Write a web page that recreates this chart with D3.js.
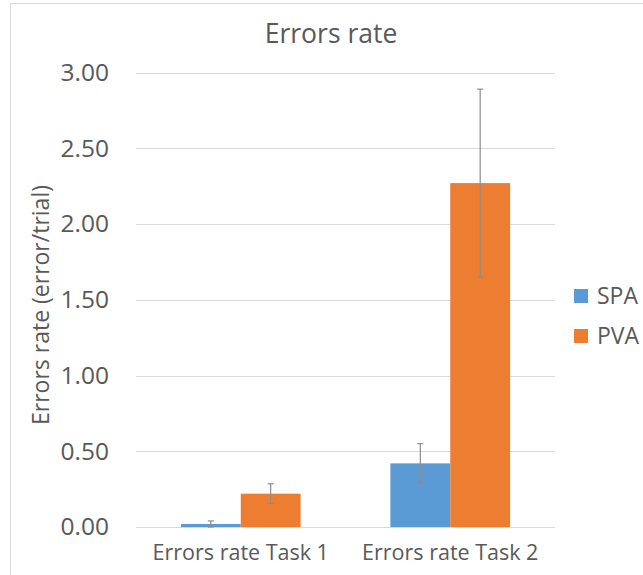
<!DOCTYPE html>
<html>
<head>
<meta charset="utf-8">
<script src="https://cdn.jsdelivr.net/npm/d3@7"></script>
<style>
  body { margin: 0; background: #fff; }
  text { font-family: "Open Sans", sans-serif; fill: #595959; }
</style>
</head>
<body>
<script>
const categories = ["Errors rate Task 1", "Errors rate Task 2"];
const seriesNames = ["SPA", "PVA"];
const spaValues = [0.02, 0.42];
const pvaValues = [0.22, 2.27];
const spaErrors = [0.02, 0.13];
const pvaErrors = [0.065, 0.62];
const yTicks = [0, 0.5, 1, 1.5, 2, 2.5, 3];

const colors = {SPA: "#5b9bd5", PVA: "#ed7d31"};

const width = 643;
const height = 575;
const plot = {left: 136, right: 555, top: 72.5, bottom: 527};

const svg = d3.select("body")
    .append("svg")
    .attr("width", width)
    .attr("height", height);

// chart frame
svg.append("rect")
    .attr("x", 10.5)
    .attr("y", 3.5)
    .attr("width", width + 20)
    .attr("height", height + 20)
    .attr("fill", "none")
    .attr("stroke", "#d9d9d9");

const data = categories.map(function (c, i) {
    return {
        category: c,
        values: [
            {name: "SPA", value: spaValues[i], err: spaErrors[i]},
            {name: "PVA", value: pvaValues[i], err: pvaErrors[i]}
        ]
    };
});

const x0 = d3.scaleBand()
    .domain(categories)
    .range([plot.left, plot.right])
    .padding(0);

const x1 = d3.scaleBand()
    .domain(seriesNames)
    .range([0, x0.bandwidth()])
    .paddingInner(0)
    .paddingOuter(0.75);

const y = d3.scaleLinear()
    .domain([0, 3])
    .range([plot.bottom, plot.top]);

// gridlines
svg.append("g")
    .selectAll("line")
    .data(yTicks)
    .enter().append("line")
    .attr("x1", plot.left)
    .attr("x2", plot.right)
    .attr("y1", function (d) { return Math.round(y(d)) + 0.5; })
    .attr("y2", function (d) { return Math.round(y(d)) + 0.5; })
    .attr("stroke", "#d9d9d9")
    .attr("stroke-width", 1);

// Y axis labels
const yAxis = svg.append("g")
    .attr("transform", "translate(" + (plot.left - 27) + ",0)")
    .call(d3.axisLeft(y).tickValues(yTicks).tickFormat(d3.format(".2f")).tickSize(0).tickPadding(0));
yAxis.select(".domain").remove();
yAxis.selectAll("text")
    .style("font-size", "24.5px")
    .style("font-family", "'Open Sans', sans-serif")
    .attr("fill", "#595959");

// X axis labels
const xAxis = svg.append("g")
    .attr("transform", "translate(0," + plot.bottom + ")")
    .call(d3.axisBottom(x0).tickSize(0).tickPadding(18));
xAxis.select(".domain").remove();
xAxis.selectAll("text")
    .style("font-size", "21.5px")
    .style("font-family", "'Open Sans', sans-serif")
    .attr("fill", "#595959");

// bars
const groups = svg.selectAll(".group")
    .data(data)
    .enter().append("g")
    .attr("class", "group")
    .attr("transform", function (d) { return "translate(" + x0(d.category) + ",0)"; });

groups.selectAll("rect")
    .data(function (d) { return d.values; })
    .enter().append("rect")
    .attr("x", function (d) { return x1(d.name); })
    .attr("width", x1.bandwidth())
    .attr("y", function (d) { return y(d.value); })
    .attr("height", function (d) { return plot.bottom - y(d.value); })
    .attr("fill", function (d) { return colors[d.name]; });

// error bars
const errs = groups.selectAll(".err")
    .data(function (d) { return d.values; })
    .enter().append("g")
    .attr("class", "err")
    .attr("stroke", "#8c8c8c")
    .attr("stroke-width", 1.2);

errs.append("line")
    .attr("x1", function (d) { return x1(d.name) + x1.bandwidth() / 2; })
    .attr("x2", function (d) { return x1(d.name) + x1.bandwidth() / 2; })
    .attr("y1", function (d) { return y(d.value + d.err); })
    .attr("y2", function (d) { return y(Math.max(0, d.value - d.err)); });

errs.append("line")
    .attr("x1", function (d) { return x1(d.name) + x1.bandwidth() / 2 - 3; })
    .attr("x2", function (d) { return x1(d.name) + x1.bandwidth() / 2 + 3; })
    .attr("y1", function (d) { return y(d.value + d.err); })
    .attr("y2", function (d) { return y(d.value + d.err); });

errs.append("line")
    .attr("x1", function (d) { return x1(d.name) + x1.bandwidth() / 2 - 3; })
    .attr("x2", function (d) { return x1(d.name) + x1.bandwidth() / 2 + 3; })
    .attr("y1", function (d) { return y(Math.max(0, d.value - d.err)); })
    .attr("y2", function (d) { return y(Math.max(0, d.value - d.err)); });

// title
svg.append("text")
    .attr("x", 331)
    .attr("y", 43)
    .attr("text-anchor", "middle")
    .style("font-size", "26.5px")
    .text("Errors rate");

// y axis title
svg.append("text")
    .attr("transform", "translate(49,305) rotate(-90)")
    .attr("text-anchor", "middle")
    .style("font-size", "23px")
    .text("Errors rate (error/trial)");

// legend
const legend = svg.selectAll(".legend")
    .data(seriesNames)
    .enter().append("g")
    .attr("class", "legend")
    .attr("transform", function (d, i) { return "translate(574," + (289 + i * 40) + ")"; });

legend.append("rect")
    .attr("width", 14)
    .attr("height", 14)
    .attr("fill", function (d) { return colors[d]; });

legend.append("text")
    .attr("x", 23)
    .attr("y", 7)
    .attr("dy", "0.35em")
    .style("font-size", "23px")
    .text(function (d) { return d; });
</script>
</body>
</html>
